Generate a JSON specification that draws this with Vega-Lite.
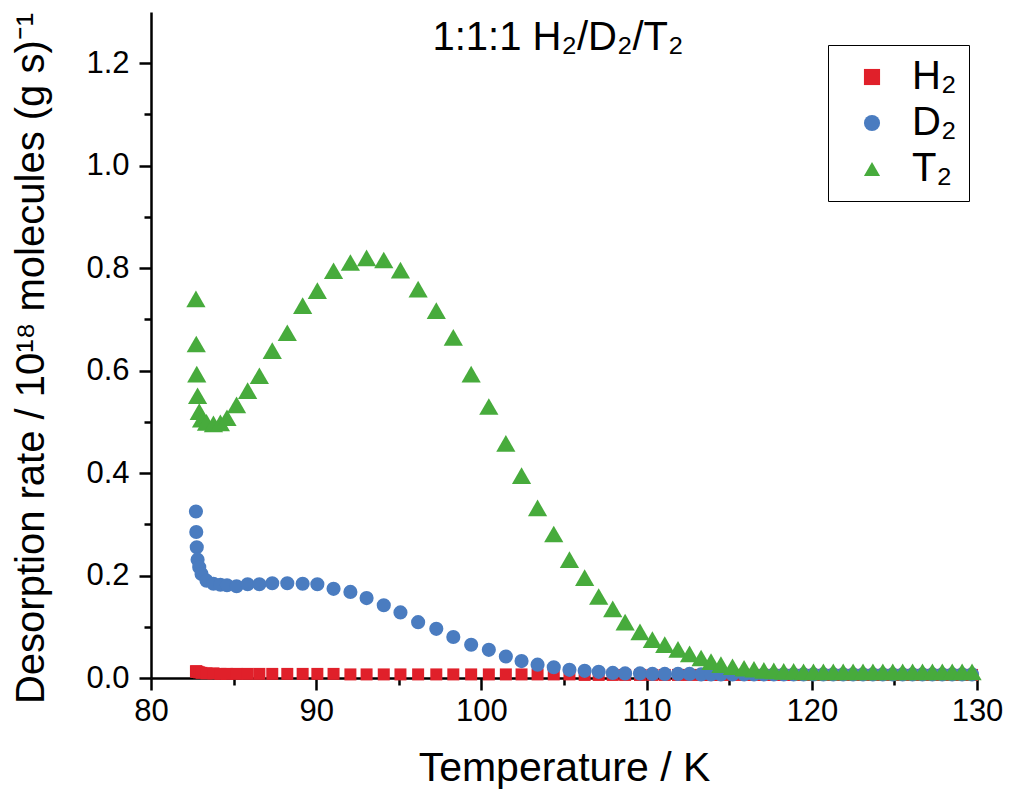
{
  "$schema": "https://vega.github.io/schema/vega-lite/v6.json",
  "width": 826,
  "height": 666,
  "autosize": "none",
  "padding": {"left": 151, "top": 12, "right": 43, "bottom": 124},
  "background": "white",
  "config": {
    "view": {"stroke": null},
    "font": "Liberation Sans",
    "legend": {"orient": "none", "legendX": 677, "legendY": 33, "title": null, "labelFontSize": 40, "labelColor": "black",
               "strokeColor": "black", "fillColor": "white", "padding": 12, "symbolOffset": 12, "labelOffset": 20, "rowPadding": 6, "symbolSize": 260}
  },
  "title": {"text": "1:1:1 H₂/D₂/T₂", "fontSize": 40, "fontWeight": "normal", "color": "black", "anchor": "middle", "frame": "group", "offset": -35, "baseline": "alphabetic", "dx": -6, "dy": 43},
  "data": {"values": [
    {"T": 82.72, "s": "H₂", "v": 0.013}, {"T": 82.74, "s": "H₂", "v": 0.013}, {"T": 82.77, "s": "H₂", "v": 0.012}, {"T": 82.82, "s": "H₂", "v": 0.012},
    {"T": 82.92, "s": "H₂", "v": 0.011}, {"T": 83.06, "s": "H₂", "v": 0.010}, {"T": 83.36, "s": "H₂", "v": 0.009}, {"T": 83.78, "s": "H₂", "v": 0.009},
    {"T": 84.20, "s": "H₂", "v": 0.008}, {"T": 84.60, "s": "H₂", "v": 0.008}, {"T": 85.18, "s": "H₂", "v": 0.008}, {"T": 85.85, "s": "H₂", "v": 0.008},
    {"T": 86.56, "s": "H₂", "v": 0.008}, {"T": 87.34, "s": "H₂", "v": 0.008}, {"T": 88.25, "s": "H₂", "v": 0.008}, {"T": 89.18, "s": "H₂", "v": 0.008},
    {"T": 90.07, "s": "H₂", "v": 0.008}, {"T": 91.05, "s": "H₂", "v": 0.008}, {"T": 92.07, "s": "H₂", "v": 0.007}, {"T": 93.05, "s": "H₂", "v": 0.007},
    {"T": 94.09, "s": "H₂", "v": 0.007}, {"T": 95.10, "s": "H₂", "v": 0.007}, {"T": 96.17, "s": "H₂", "v": 0.007}, {"T": 97.27, "s": "H₂", "v": 0.007},
    {"T": 98.30, "s": "H₂", "v": 0.007}, {"T": 99.38, "s": "H₂", "v": 0.007}, {"T": 100.45, "s": "H₂", "v": 0.007}, {"T": 101.48, "s": "H₂", "v": 0.007},
    {"T": 102.43, "s": "H₂", "v": 0.007}, {"T": 103.40, "s": "H₂", "v": 0.007}, {"T": 104.38, "s": "H₂", "v": 0.007}, {"T": 105.33, "s": "H₂", "v": 0.007},
    {"T": 106.25, "s": "H₂", "v": 0.006}, {"T": 107.10, "s": "H₂", "v": 0.006}, {"T": 107.95, "s": "H₂", "v": 0.006}, {"T": 108.70, "s": "H₂", "v": 0.006},
    {"T": 109.60, "s": "H₂", "v": 0.006}, {"T": 110.35, "s": "H₂", "v": 0.006}, {"T": 111.10, "s": "H₂", "v": 0.006}, {"T": 111.90, "s": "H₂", "v": 0.006},
    {"T": 112.60, "s": "H₂", "v": 0.006}, {"T": 113.30, "s": "H₂", "v": 0.006}, {"T": 113.90, "s": "H₂", "v": 0.006}, {"T": 114.50, "s": "H₂", "v": 0.006},
    {"T": 115.20, "s": "H₂", "v": 0.006}, {"T": 115.90, "s": "H₂", "v": 0.006}, {"T": 116.50, "s": "H₂", "v": 0.006}, {"T": 117.10, "s": "H₂", "v": 0.006},
    {"T": 117.70, "s": "H₂", "v": 0.006}, {"T": 118.30, "s": "H₂", "v": 0.006}, {"T": 118.90, "s": "H₂", "v": 0.006}, {"T": 119.50, "s": "H₂", "v": 0.006},
    {"T": 120.10, "s": "H₂", "v": 0.006}, {"T": 120.70, "s": "H₂", "v": 0.006}, {"T": 121.30, "s": "H₂", "v": 0.006}, {"T": 121.90, "s": "H₂", "v": 0.006},
    {"T": 122.50, "s": "H₂", "v": 0.006}, {"T": 123.10, "s": "H₂", "v": 0.006}, {"T": 123.70, "s": "H₂", "v": 0.006}, {"T": 124.30, "s": "H₂", "v": 0.006},
    {"T": 124.90, "s": "H₂", "v": 0.006}, {"T": 125.50, "s": "H₂", "v": 0.006}, {"T": 126.10, "s": "H₂", "v": 0.006}, {"T": 126.70, "s": "H₂", "v": 0.006},
    {"T": 127.30, "s": "H₂", "v": 0.006}, {"T": 127.90, "s": "H₂", "v": 0.006}, {"T": 128.50, "s": "H₂", "v": 0.006}, {"T": 129.10, "s": "H₂", "v": 0.006},
    {"T": 129.70, "s": "H₂", "v": 0.006},
    {"T": 82.72, "s": "D₂", "v": 0.325}, {"T": 82.74, "s": "D₂", "v": 0.285}, {"T": 82.77, "s": "D₂", "v": 0.255}, {"T": 82.82, "s": "D₂", "v": 0.231},
    {"T": 82.92, "s": "D₂", "v": 0.216}, {"T": 83.06, "s": "D₂", "v": 0.203}, {"T": 83.36, "s": "D₂", "v": 0.190}, {"T": 83.78, "s": "D₂", "v": 0.184},
    {"T": 84.20, "s": "D₂", "v": 0.182}, {"T": 84.60, "s": "D₂", "v": 0.181}, {"T": 85.18, "s": "D₂", "v": 0.179}, {"T": 85.85, "s": "D₂", "v": 0.183},
    {"T": 86.56, "s": "D₂", "v": 0.183}, {"T": 87.34, "s": "D₂", "v": 0.185}, {"T": 88.25, "s": "D₂", "v": 0.185}, {"T": 89.18, "s": "D₂", "v": 0.184},
    {"T": 90.07, "s": "D₂", "v": 0.183}, {"T": 91.05, "s": "D₂", "v": 0.174}, {"T": 92.07, "s": "D₂", "v": 0.168}, {"T": 93.05, "s": "D₂", "v": 0.156},
    {"T": 94.09, "s": "D₂", "v": 0.142}, {"T": 95.10, "s": "D₂", "v": 0.128}, {"T": 96.17, "s": "D₂", "v": 0.109}, {"T": 97.27, "s": "D₂", "v": 0.096},
    {"T": 98.30, "s": "D₂", "v": 0.080}, {"T": 99.38, "s": "D₂", "v": 0.065}, {"T": 100.45, "s": "D₂", "v": 0.055}, {"T": 101.48, "s": "D₂", "v": 0.042},
    {"T": 102.43, "s": "D₂", "v": 0.033}, {"T": 103.40, "s": "D₂", "v": 0.026}, {"T": 104.38, "s": "D₂", "v": 0.021}, {"T": 105.33, "s": "D₂", "v": 0.016},
    {"T": 106.25, "s": "D₂", "v": 0.014}, {"T": 107.10, "s": "D₂", "v": 0.012}, {"T": 107.95, "s": "D₂", "v": 0.010}, {"T": 108.70, "s": "D₂", "v": 0.009},
    {"T": 109.60, "s": "D₂", "v": 0.009}, {"T": 110.35, "s": "D₂", "v": 0.008}, {"T": 111.10, "s": "D₂", "v": 0.008}, {"T": 111.90, "s": "D₂", "v": 0.008},
    {"T": 112.60, "s": "D₂", "v": 0.008}, {"T": 113.30, "s": "D₂", "v": 0.007}, {"T": 113.90, "s": "D₂", "v": 0.007}, {"T": 114.50, "s": "D₂", "v": 0.007},
    {"T": 115.20, "s": "D₂", "v": 0.007}, {"T": 115.90, "s": "D₂", "v": 0.007}, {"T": 116.50, "s": "D₂", "v": 0.007}, {"T": 117.10, "s": "D₂", "v": 0.007},
    {"T": 117.70, "s": "D₂", "v": 0.007}, {"T": 118.30, "s": "D₂", "v": 0.007}, {"T": 118.90, "s": "D₂", "v": 0.007}, {"T": 119.50, "s": "D₂", "v": 0.007},
    {"T": 120.10, "s": "D₂", "v": 0.007}, {"T": 120.70, "s": "D₂", "v": 0.007}, {"T": 121.30, "s": "D₂", "v": 0.007}, {"T": 121.90, "s": "D₂", "v": 0.007},
    {"T": 122.50, "s": "D₂", "v": 0.007}, {"T": 123.10, "s": "D₂", "v": 0.007}, {"T": 123.70, "s": "D₂", "v": 0.007}, {"T": 124.30, "s": "D₂", "v": 0.007},
    {"T": 124.90, "s": "D₂", "v": 0.007}, {"T": 125.50, "s": "D₂", "v": 0.007}, {"T": 126.10, "s": "D₂", "v": 0.007}, {"T": 126.70, "s": "D₂", "v": 0.007},
    {"T": 127.30, "s": "D₂", "v": 0.007}, {"T": 127.90, "s": "D₂", "v": 0.007}, {"T": 128.50, "s": "D₂", "v": 0.007}, {"T": 129.10, "s": "D₂", "v": 0.007},
    {"T": 129.70, "s": "D₂", "v": 0.007},
    {"T": 82.72, "s": "T₂", "v": 0.740}, {"T": 82.74, "s": "T₂", "v": 0.652}, {"T": 82.77, "s": "T₂", "v": 0.593}, {"T": 82.82, "s": "T₂", "v": 0.551},
    {"T": 82.92, "s": "T₂", "v": 0.520}, {"T": 83.06, "s": "T₂", "v": 0.505}, {"T": 83.36, "s": "T₂", "v": 0.499}, {"T": 83.78, "s": "T₂", "v": 0.496},
    {"T": 84.20, "s": "T₂", "v": 0.498}, {"T": 84.60, "s": "T₂", "v": 0.508}, {"T": 85.18, "s": "T₂", "v": 0.533}, {"T": 85.85, "s": "T₂", "v": 0.561},
    {"T": 86.56, "s": "T₂", "v": 0.590}, {"T": 87.34, "s": "T₂", "v": 0.639}, {"T": 88.25, "s": "T₂", "v": 0.674}, {"T": 89.18, "s": "T₂", "v": 0.727},
    {"T": 90.07, "s": "T₂", "v": 0.756}, {"T": 91.05, "s": "T₂", "v": 0.795}, {"T": 92.07, "s": "T₂", "v": 0.811}, {"T": 93.05, "s": "T₂", "v": 0.820},
    {"T": 94.09, "s": "T₂", "v": 0.816}, {"T": 95.10, "s": "T₂", "v": 0.796}, {"T": 96.17, "s": "T₂", "v": 0.759}, {"T": 97.27, "s": "T₂", "v": 0.717},
    {"T": 98.30, "s": "T₂", "v": 0.665}, {"T": 99.38, "s": "T₂", "v": 0.593}, {"T": 100.45, "s": "T₂", "v": 0.530}, {"T": 101.48, "s": "T₂", "v": 0.458},
    {"T": 102.43, "s": "T₂", "v": 0.395}, {"T": 103.40, "s": "T₂", "v": 0.332}, {"T": 104.38, "s": "T₂", "v": 0.281}, {"T": 105.33, "s": "T₂", "v": 0.231},
    {"T": 106.25, "s": "T₂", "v": 0.196}, {"T": 107.10, "s": "T₂", "v": 0.159}, {"T": 107.95, "s": "T₂", "v": 0.135}, {"T": 108.70, "s": "T₂", "v": 0.109},
    {"T": 109.60, "s": "T₂", "v": 0.090}, {"T": 110.35, "s": "T₂", "v": 0.075}, {"T": 111.10, "s": "T₂", "v": 0.065}, {"T": 111.90, "s": "T₂", "v": 0.056},
    {"T": 112.60, "s": "T₂", "v": 0.047}, {"T": 113.30, "s": "T₂", "v": 0.039}, {"T": 113.90, "s": "T₂", "v": 0.032}, {"T": 114.50, "s": "T₂", "v": 0.026},
    {"T": 115.20, "s": "T₂", "v": 0.022}, {"T": 115.90, "s": "T₂", "v": 0.019}, {"T": 116.50, "s": "T₂", "v": 0.017}, {"T": 117.10, "s": "T₂", "v": 0.015},
    {"T": 117.70, "s": "T₂", "v": 0.014}, {"T": 118.30, "s": "T₂", "v": 0.013}, {"T": 118.90, "s": "T₂", "v": 0.013}, {"T": 119.50, "s": "T₂", "v": 0.012},
    {"T": 120.10, "s": "T₂", "v": 0.012}, {"T": 120.70, "s": "T₂", "v": 0.012}, {"T": 121.30, "s": "T₂", "v": 0.012}, {"T": 121.90, "s": "T₂", "v": 0.012},
    {"T": 122.50, "s": "T₂", "v": 0.012}, {"T": 123.10, "s": "T₂", "v": 0.012}, {"T": 123.70, "s": "T₂", "v": 0.012}, {"T": 124.30, "s": "T₂", "v": 0.012},
    {"T": 124.90, "s": "T₂", "v": 0.012}, {"T": 125.50, "s": "T₂", "v": 0.012}, {"T": 126.10, "s": "T₂", "v": 0.012}, {"T": 126.70, "s": "T₂", "v": 0.012},
    {"T": 127.30, "s": "T₂", "v": 0.012}, {"T": 127.90, "s": "T₂", "v": 0.012}, {"T": 128.50, "s": "T₂", "v": 0.012}, {"T": 129.10, "s": "T₂", "v": 0.012},
    {"T": 129.70, "s": "T₂", "v": 0.012}
  ]},
  "layer": [
    {
      "mark": {"type": "point", "opacity": 0},
      "encoding": {
        "x": {"field": "T", "type": "quantitative",
              "axis": {"orient": "bottom", "values": [85, 95, 105, 115, 125], "tickSize": 7, "tickWidth": 2.5, "tickColor": "black", "labels": false, "domain": false, "title": null, "grid": false}},
        "y": {"field": "v", "type": "quantitative",
              "axis": {"orient": "left", "values": [0.1, 0.3, 0.5, 0.7, 0.9, 1.1], "tickSize": 7, "tickWidth": 2.5, "tickColor": "black", "labels": false, "domain": false, "title": null, "grid": false}}
      }
    },
    {
      "transform": [{"filter": "datum.s === 'H₂'"}],
      "mark": {"type": "point", "filled": true, "opacity": 1, "strokeWidth": 0, "size": 144},
      "encoding": {
        "x": {"field": "T", "type": "quantitative",
              "scale": {"domain": [80, 130], "nice": false, "zero": false},
              "axis": {"orient": "bottom", "values": [80, 90, 100, 110, 120, 130], "tickSize": 12, "tickWidth": 2.5, "tickColor": "black",
                       "domainColor": "black", "domainWidth": 2.5, "labelFontSize": 31, "labelColor": "black", "labelPadding": 6,
                       "labelFlush": false, "labelOverlap": false, "grid": false,
                       "title": "Temperature / K", "titleFontSize": 41, "titleFontWeight": "normal", "titleColor": "black", "titlePadding": 22}},
        "y": {"field": "v", "type": "quantitative",
              "scale": {"domain": [0, 1.3], "nice": false},
              "axis": {"orient": "left", "values": [0, 0.2, 0.4, 0.6, 0.8, 1.0, 1.2], "format": ".1f", "tickSize": 12, "tickWidth": 2.5, "tickColor": "black",
                       "domainColor": "black", "domainWidth": 2.5, "labelFontSize": 31, "labelColor": "black", "labelPadding": 10,
                       "labelOverlap": false, "grid": false,
                       "title": "Desorption rate / 10¹⁸ molecules (g s)⁻¹", "titleFontSize": 40, "titleFontWeight": "normal", "titleColor": "black",
                       "titlePadding": 34, "titleY": 346}},
        "color": {"field": "s", "type": "nominal",
                  "scale": {"domain": ["H₂", "D₂", "T₂"], "range": ["#e0202a", "#4a7cc0", "#47ab3c"]}},
        "shape": {"field": "s", "type": "nominal",
                  "scale": {"domain": ["H₂", "D₂", "T₂"], "range": ["square", "circle", "triangle-up"]}}
      }
    },
    {
      "transform": [{"filter": "datum.s === 'D₂'"}],
      "mark": {"type": "point", "filled": true, "opacity": 1, "strokeWidth": 0, "size": 200},
      "encoding": {
        "x": {"field": "T", "type": "quantitative", "axis": null},
        "y": {"field": "v", "type": "quantitative", "axis": null},
        "color": {"field": "s", "type": "nominal"},
        "shape": {"field": "s", "type": "nominal"}
      }
    },
    {
      "transform": [{"filter": "datum.s === 'T₂'"}],
      "mark": {"type": "point", "filled": true, "opacity": 1, "strokeWidth": 0, "size": 370},
      "encoding": {
        "x": {"field": "T", "type": "quantitative", "axis": null},
        "y": {"field": "v", "type": "quantitative", "axis": null},
        "color": {"field": "s", "type": "nominal"},
        "shape": {"field": "s", "type": "nominal"}
      }
    }
  ],
  "resolve": {"axis": {"x": "independent", "y": "independent"}}
}
